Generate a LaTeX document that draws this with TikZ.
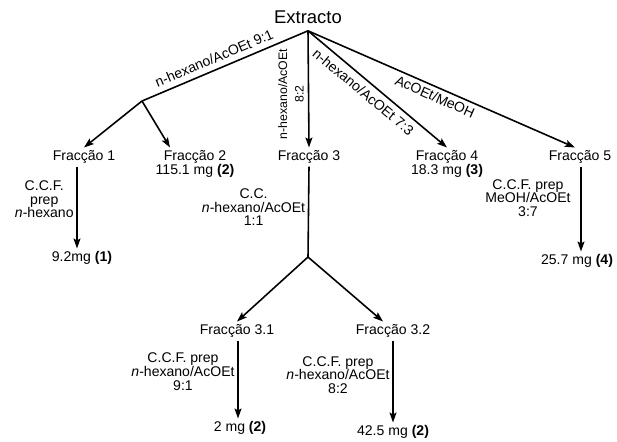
\documentclass[tikz,border=0pt]{standalone}
\usepackage{fontspec}
\setmainfont{Liberation Sans}
\usetikzlibrary{arrows.meta}

\begin{document}
\begin{tikzpicture}[
    x=0.02cm, y=-0.02cm,
    txt/.style={font=\fontsize{8}{7.8}\selectfont, inner sep=1.5pt, align=center},
    ttl/.style={font=\fontsize{10.5}{12}\selectfont, inner sep=4pt},
    arr/.style={-{Stealth[length=2mm, width=1.4mm, inset=0.4mm]}, line width=0.9pt},
    ln/.style={line width=0.9pt},
  ]
  \useasboundingbox (0,0) rectangle (617,441);
  % top level
  \node[ttl] (ext) at (308,17) {Extracto};
  \coordinate (j1) at (142,101);
  \node[txt] (f1) at (84,157) {Fracção 1};
  \node[txt] (f2) at (195,157) {Fracção 2};
  \node[txt] (m2) at (195,171) {115.1 mg \textbf{(2)}};
  \node[txt] (f3) at (309,157) {Fracção 3};
  \node[txt] (f4) at (447,157) {Fracção 4};
  \node[txt] (m4) at (447,171) {18.3 mg \textbf{(3)}};
  \node[txt] (f5) at (580,157) {Fracção 5};
  \node[txt] (r1) at (82,258) {9.2mg \textbf{(1)}};
  \node[txt] (r5) at (577,261) {25.7 mg \textbf{(4)}};
  % second level
  \coordinate (j3) at (308,257);
  \node[txt] (f31) at (237,331) {Fracção 3.1};
  \node[txt] (f32) at (393,331) {Fracção 3.2};
  \node[txt] (r31) at (240,428) {2 mg \textbf{(2)}};
  \node[txt] (r32) at (393,432) {42.5 mg \textbf{(2)}};

  \draw[ln] (ext.south) -- node[txt, pos=0.54, above=1.5pt, sloped] {n-hexano/AcOEt 9:1} (j1);
  \draw[arr] (j1) -- (f1.north);
  \draw[arr] (j1) -- ([xshift=-0.5cm]f2.north);
  \draw[arr] (ext.south) -- (f3.north);
  \node[txt, font=\fontsize{7}{9.5}\selectfont, rotate=90] (e3) at (291,94) {n-hexano/AcOEt\\8:2};
  \draw[arr] (ext.south) -- node[txt, pos=0.45, below=1.5pt, sloped] {n-hexano/AcOEt 7:3} (f4.north);
  \draw[arr] (ext.south) -- node[txt, pos=0.49, below=0.5pt, sloped] {AcOEt/MeOH} ([xshift=-0.1cm]f5.north);

  \draw[arr] (f1.south -| 77,0) -- node[txt, pos=0.4, left] {C.C.F.\\prep\\\textit{n}-hexano} (r1.north -| 77,0);
  \draw[arr] (f5.south -| 581,0) -- node[txt, pos=0.37, left=4pt] {C.C.F. prep\\MeOH/AcOEt\\3:7} (r5.north -| 581,0);
  \draw[ln] (f3.south) -- node[txt, pos=0.45, left] {C.C.\\\textit{n}-hexano/AcOEt\\1:1} (j3);

  \draw[arr] (j3) -- (f31.north);
  \draw[arr] (j3) -- ([xshift=-0.2cm]f32.north);
  \draw[arr] (f31.south -| 238,0) -- node[txt, pos=0.4, left] {C.C.F. prep\\\textit{n}-hexano/AcOEt\\9:1} (r31.north -| 238,0);
  \draw[arr] (f32.south) -- node[txt, pos=0.42, left] {C.C.F. prep\\\textit{n}-hexano/AcOEt\\8:2} (r32.north);
\end{tikzpicture}
\end{document}
